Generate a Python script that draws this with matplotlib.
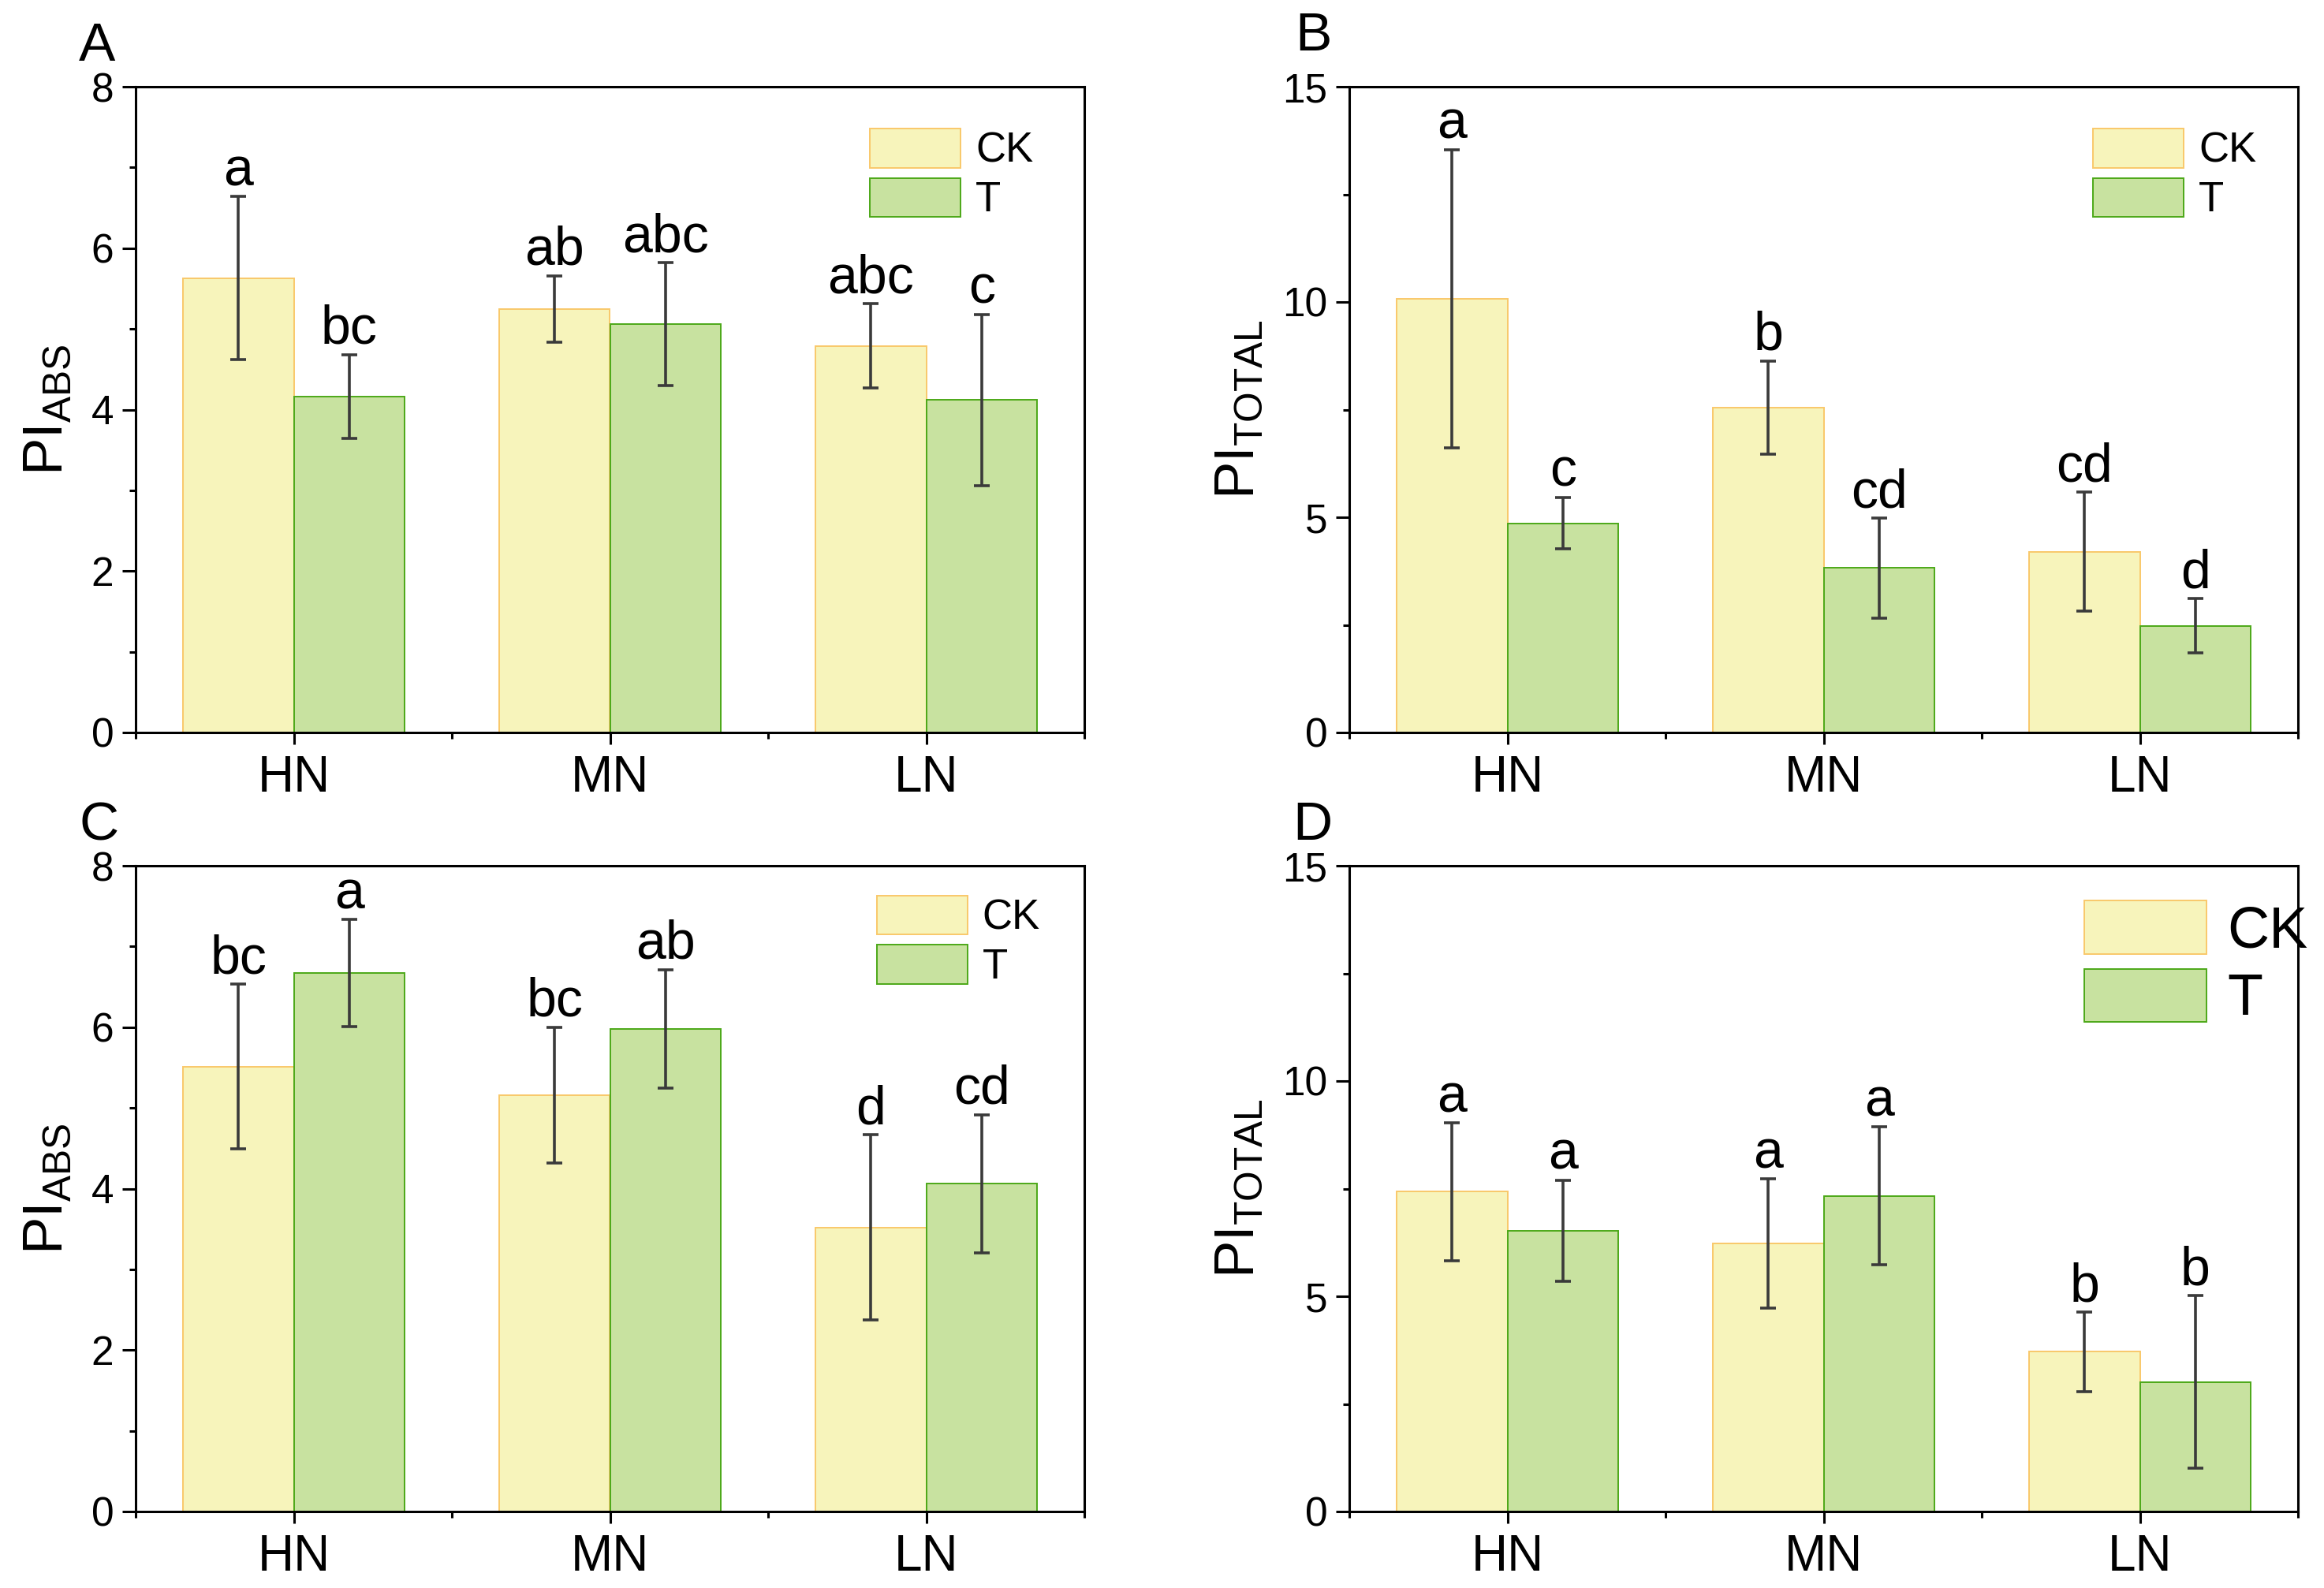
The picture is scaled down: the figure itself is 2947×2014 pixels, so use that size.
import matplotlib
matplotlib.use("Agg")
import matplotlib.pyplot as plt
from matplotlib.ticker import MultipleLocator, FixedLocator
import numpy as np

plt.rcParams['font.family'] = ['Liberation Sans', 'DejaVu Sans']
plt.rcParams['mathtext.fontset'] = 'custom'
plt.rcParams['mathtext.rm'] = 'Liberation Sans'

groups = ["HN", "MN", "LN"]

# panel A: PI_ABS
a_ck = [5.63, 5.25, 4.79]
a_ck_err = [1.01, 0.41, 0.52]
a_t = [4.16, 5.06, 4.12]
a_t_err = [0.52, 0.76, 1.06]
a_ck_lab = ["a", "ab", "abc"]
a_t_lab = ["bc", "abc", "c"]

# panel B: PI_TOTAL
b_ck = [10.08, 7.55, 4.20]
b_ck_err = [3.46, 1.08, 1.38]
b_t = [4.86, 3.82, 2.48]
b_t_err = [0.60, 1.16, 0.63]
b_ck_lab = ["a", "b", "cd"]
b_t_lab = ["c", "cd", "d"]

# panel C: PI_ABS
c_ck = [5.51, 5.16, 3.52]
c_ck_err = [1.02, 0.84, 1.15]
c_t = [6.67, 5.98, 4.06]
c_t_err = [0.665, 0.735, 0.855]
c_ck_lab = ["bc", "bc", "d"]
c_t_lab = ["a", "ab", "cd"]

# panel D: PI_TOTAL
d_ck = [7.43, 6.23, 3.71]
d_ck_err = [1.60, 1.50, 0.92]
d_t = [6.52, 7.33, 3.01]
d_t_err = [1.18, 1.60, 2.00]
d_ck_lab = ["a", "a", "b"]
d_t_lab = ["a", "a", "b"]

CK_FILL, CK_EDGE = "#F7F4BB", "#F9C86A"
T_FILL, T_EDGE = "#C8E2A0", "#4CA818"
ERR_C = "#3a3a3a"

W, H = 2947, 2014
fig = plt.figure(figsize=(W / 100, H / 100), dpi=100)


def panel(rect, ck, ck_err, t, t_err, ck_lab, t_lab, ymax, ystep, yminor,
          ylabel, leg_xy, leg_fs, leg_hl, leg_hh):
    ax = fig.add_axes(rect)
    x = np.arange(1, len(groups) + 1)
    w = 0.35
    ax.bar(x - w / 2, ck, w, color=CK_FILL, edgecolor=CK_EDGE, linewidth=1.4, label="CK", zorder=2)
    ax.bar(x + w / 2, t, w, color=T_FILL, edgecolor=T_EDGE, linewidth=1.4, label="T", zorder=2)
    ax.errorbar(x - w / 2, ck, yerr=ck_err, fmt="none", ecolor=ERR_C, elinewidth=2.6,
                capsize=7.5, capthick=2.6, zorder=3)
    ax.errorbar(x + w / 2, t, yerr=t_err, fmt="none", ecolor=ERR_C, elinewidth=2.6,
                capsize=7.5, capthick=2.6, zorder=3)
    for xi, v, e, s in zip(x - w / 2, ck, ck_err, ck_lab):
        ax.annotate(s, (xi, v + e), xytext=(0, 10), textcoords="offset points",
                    ha="center", va="baseline", fontsize=49)
    for xi, v, e, s in zip(x + w / 2, t, t_err, t_lab):
        ax.annotate(s, (xi, v + e), xytext=(0, 10), textcoords="offset points",
                    ha="center", va="baseline", fontsize=49)

    ax.set_xlim(0.5, 3.5)
    ax.set_ylim(0, ymax)
    ax.set_xticks(x)
    ax.set_xticklabels(groups)
    ax.xaxis.set_minor_locator(FixedLocator([0.5, 1.5, 2.5, 3.5]))
    ax.yaxis.set_major_locator(MultipleLocator(ystep))
    ax.yaxis.set_minor_locator(MultipleLocator(yminor))
    ax.tick_params(axis="both", which="both", direction="out", width=2.2,
                   top=False, right=False)
    ax.tick_params(axis="y", which="major", length=12, labelsize=37, pad=8)
    ax.tick_params(axis="y", which="minor", length=6)
    ax.tick_params(axis="x", which="major", length=11, labelsize=46, pad=9)
    ax.tick_params(axis="x", which="minor", length=6)
    for sp in ax.spines.values():
        sp.set_linewidth(2.2)
    ax.set_ylabel(ylabel, fontsize=51, labelpad=16)

    ax.legend(loc="upper left", bbox_to_anchor=leg_xy, frameon=False,
              fontsize=leg_fs, handlelength=leg_hl, handleheight=leg_hh,
              labelspacing=0.17, handletextpad=0.36, borderpad=0, borderaxespad=0)
    return ax


ax_w = 1203 / W
ax_h = 819 / H
top_b = 1 - 929 / H
bot_b = 1 - 1917 / H
left_a = 172 / W
left_b = 1711 / W

panel([left_a, top_b, ax_w, ax_h], a_ck, a_ck_err, a_t, a_t_err, a_ck_lab, a_t_lab,
      8, 2, 1, r"PI$_{\mathregular{ABS}}$", (0.774, 0.935), 38, 2.18, 1.06)
panel([left_b, top_b, ax_w, ax_h], b_ck, b_ck_err, b_t, b_t_err, b_ck_lab, b_t_lab,
      15, 5, 2.5, r"PI$_{\mathregular{TOTAL}}$", (0.784, 0.935), 38, 2.18, 1.06)
panel([left_a, bot_b, ax_w, ax_h], c_ck, c_ck_err, c_t, c_t_err, c_ck_lab, c_t_lab,
      8, 2, 1, r"PI$_{\mathregular{ABS}}$", (0.781, 0.954), 38, 2.18, 1.06)
panel([left_b, bot_b, ax_w, ax_h], d_ck, d_ck_err, d_t, d_t_err, d_ck_lab, d_t_lab,
      15, 5, 2.5, r"PI$_{\mathregular{TOTAL}}$", (0.775, 0.946), 53, 2.1, 1.03)

fig.text(100 / W, 1 - 77 / H, "A", fontsize=50, va="baseline")
fig.text(1642 / W, 1 - 64 / H, "B", fontsize=50, va="baseline")
fig.text(100 / W, 1 - 1065 / H, "C", fontsize=50, va="baseline")
fig.text(1639 / W, 1 - 1065 / H, "D", fontsize=50, va="baseline")

fig.savefig("out.png", dpi=100)
